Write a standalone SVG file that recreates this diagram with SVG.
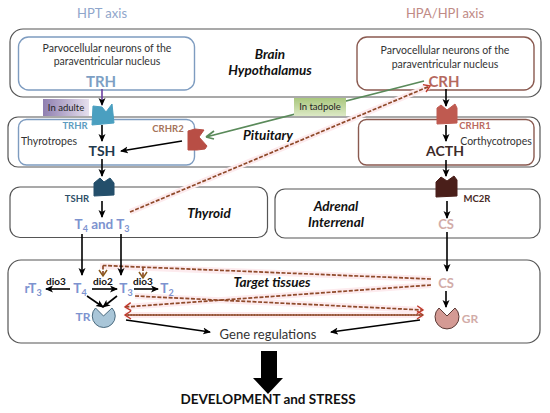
<svg xmlns="http://www.w3.org/2000/svg" width="550" height="413" viewBox="0 0 550 413">
<style>
text{font-family:Lato,"Liberation Sans",sans-serif;text-anchor:middle}
.box{fill:#fff;stroke:#555;stroke-width:1.2}
.bl{fill:#fff;stroke:#7e9cc0;stroke-width:1.4}
.br{fill:#fff;stroke:#8a5a50;stroke-width:1.4}
.t{font-size:10.5px;fill:#333}
.lab{font-size:13.5px;font-weight:bold;font-style:italic;fill:#111}
.blue{fill:#7d93cf}
.a{stroke:#000;stroke-width:1.6;fill:none;marker-end:url(#ar)}
.halo{stroke:#fdebee;stroke-width:6;fill:none}
.d{stroke:#8f4a2a;stroke-width:1.7;stroke-dasharray:4 1.6;fill:none}
.dr{marker-end:url(#ad)}
.dg{marker-end:url(#ag)}
.rl{font-size:9.500px;font-weight:bold}
.sym{font-size:13.500px;font-weight:bold}
.dio{font-size:10px;font-weight:bold;fill:#111}
</style>
<defs>
<marker id="ar" markerUnits="userSpaceOnUse" markerWidth="9" markerHeight="8" refX="7" refY="4" orient="auto"><path d="M0 0.500L8 4L0 7.500L2 4Z" fill="#000"/></marker>
<marker id="ad" markerUnits="userSpaceOnUse" markerWidth="9" markerHeight="10" refX="7" refY="4.500" orient="auto"><path d="M1 0.500L7 4.500L1 8.500" fill="none" stroke="#c0392b" stroke-width="1.400"/></marker>
<marker id="ag" markerUnits="userSpaceOnUse" markerWidth="9" markerHeight="10" refX="7" refY="4.500" orient="auto"><path d="M1 0.500L7 4.500L1 8.500" fill="none" stroke="#8a5a1c" stroke-width="1.500"/></marker>
<linearGradient id="gp"><stop offset="0" stop-color="#8f7fb0"/><stop offset="1" stop-color="#e6e0ee"/></linearGradient>
<linearGradient id="gg" x1="0" x2="0" y1="0" y2="1"><stop offset="0" stop-color="#a9c77d"/><stop offset="1" stop-color="#dce9c5"/></linearGradient>
</defs>
<g id="titles">
<text x="102" y="18" font-size="13" fill="#8fa6cb">HPT axis</text>
<text x="445" y="18" font-size="13" fill="#c08a85">HPA/HPI axis</text>
</g>
<g id="brain">
<rect class="box" x="10" y="29" width="531" height="68" rx="13"/>
<text class="lab" x="270" y="59">Brain</text>
<text class="lab" x="270" y="75">Hypothalamus</text>
</g>
<g id="pvn-left">
<rect class="bl" x="18.500" y="37" width="176" height="53" rx="10"/>
<text class="t" x="107" y="52">Parvocellular neurons of the</text>
<text class="t" x="107" y="65">paraventricular nucleus</text>
<text x="101" y="87" font-size="15" font-weight="bold" fill="#7d9fc4">TRH</text>
</g>
<g id="pvn-right">
<rect class="br" x="357" y="37" width="177" height="53" rx="10"/>
<text class="t" x="445" y="54">Parvocellular neurons of the</text>
<text class="t" x="445" y="68">paraventricular nucleus</text>
<text x="444" y="87" font-size="15" font-weight="bold" fill="#b5695f">CRH</text>
</g>
<g id="pituitary">
<rect class="box" x="8" y="117" width="532" height="50" rx="10"/>
<text class="lab" x="268" y="140">Pituitary</text>
</g>
<g id="thyrotropes">
<rect class="bl" x="18.500" y="119.500" width="176" height="45.500" rx="8"/>
<text class="t" x="49" y="145">Thyrotropes</text>
<text x="102" y="156" font-size="14" font-weight="bold" fill="#1f3a4d">TSH</text>
</g>
<g id="corticotropes">
<rect class="br" x="358.500" y="119.500" width="175.500" height="45.500" rx="8"/>
<text class="t" x="496" y="145">Corthycotropes</text>
<text x="445" y="156" font-size="14" font-weight="bold" fill="#3d2a28">ACTH</text>
</g>
<g id="thyroid">
<rect class="box" x="10" y="187" width="257.500" height="50.500" rx="10"/>
<text class="lab" x="209" y="218">Thyroid</text>
<text x="102" y="229" class="sym blue">T<tspan font-size="9" dy="3">4</tspan><tspan dy="-3"> and T</tspan><tspan font-size="9" dy="3">3</tspan></text>
</g>
<g id="adrenal">
<rect class="box" x="275" y="189" width="265" height="49" rx="10"/>
<text class="lab" x="336" y="211">Adrenal</text>
<text class="lab" x="336" y="227">Interrenal</text>
<text x="446" y="229" font-size="13" font-weight="bold" fill="#d2aca8">CS</text>
</g>
<g id="target">
<rect class="box" x="8" y="260" width="532" height="83" rx="13"/>
</g>
<g id="connectors">
<path class="halo" d="M130 212L430 86"/>
<path class="halo" d="M100 266L431 279M135 296L423 310M431 285L125 307M125 315L423 315"/>
<path class="d dr" d="M130 212L430 86"/>
<path class="d" d="M431 279L103 265.500"/>
<path class="d dg" d="M103 265.500L103 276"/>
<path class="d dg" d="M143 267L143 278"/>
<path class="d dr" d="M135 296L423 310"/>
<path class="d dr" d="M431 285L125 307"/>
<path class="d dr" d="M125 315L423 315"/>
<path class="d dr" d="M423 315L125 315"/>
<path d="M424 81L206 137M206 137L214 131M206 137L214 139" stroke="#5a8a5a" stroke-width="1.700" fill="none"/>
<path d="M102 89L102 105" stroke="#6a3fa0" stroke-width="1.600" marker-end="url(#ar)" fill="none"/>
<path class="a" d="M102 125L102 141"/>
<path class="a" d="M102 159L102 176"/>
<path class="a" d="M182 141L121 151"/>
<path class="a" d="M102 201L102 217"/>
<path class="a" d="M82 234L82 275"/>
<path class="a" d="M121 234L121 275"/>
<path class="a" d="M446 89L446 106"/>
<path class="a" d="M446 125L446 141"/>
<path class="a" d="M446 160L446 176"/>
<path class="a" d="M447 201L447 218"/>
<path class="a" d="M447 232L447 271"/>
<path class="a" d="M446 291L446 307"/>
<path class="a" d="M70 289L46 289"/>
<path class="a" d="M92 289L117 289"/>
<path class="a" d="M134 289L158 289" stroke-width="2"/>
<path class="a" d="M87 296L103 307"/>
<path class="a" d="M117 296L103 307"/>
<path class="a" d="M126 320L210 332"/>
<path class="a" d="M420 320L331 332"/>
</g>
<g id="labels">
<text class="lab" x="272" y="287">Target tissues</text>
<text x="33" y="293" class="sym blue">rT<tspan font-size="9" dy="3">3</tspan></text>
<text x="80" y="293" class="sym blue">T<tspan font-size="9" dy="3">4</tspan></text>
<text x="126" y="293" class="sym blue">T<tspan font-size="9" dy="3">3</tspan></text>
<text x="167" y="293" class="sym blue">T<tspan font-size="9" dy="3">2</tspan></text>
<text x="56" y="285" class="dio">dio3</text>
<text x="103" y="285" class="dio">dio2</text>
<text x="143" y="285" class="dio">dio3</text>
<text x="83" y="321" font-size="12" font-weight="bold" class="blue">TR</text>
<text x="446" y="288" font-size="13" font-weight="bold" fill="#d2aca8">CS</text>
<text x="470" y="323" font-size="12" font-weight="bold" fill="#d2aca8">GR</text>
<text x="268" y="339" font-size="13" fill="#333">Gene regulations</text>
<text x="75" y="129" class="rl" fill="#5d9cc0">TRHR</text>
<text x="168" y="132" class="rl" fill="#a5735a">CRHR2</text>
<text x="475" y="129" class="rl" fill="#bb6a60">CRHR1</text>
<text x="77" y="202" class="rl" fill="#2f5068">TSHR</text>
<text x="477" y="202" class="rl" fill="#4a2a26">MC2R</text>
<text x="268" y="404" font-size="13.500" font-weight="bold" fill="#111">DEVELOPMENT and STRESS</text>
</g>
<g id="in-adulte">
<rect x="43" y="99" width="46" height="17" fill="url(#gp)"/>
<text x="66" y="111" font-size="9.500" fill="#222">In adulte</text>
</g>
<g id="in-tadpole">
<rect x="294" y="98" width="52" height="18" fill="url(#gg)"/>
<text x="320" y="110" font-size="9.500" fill="#222">In tadpole</text>
</g>
<g id="TRHR"><path d="M93 106L102 107L106 112L112 104L114 123L92 125Z" fill="#4a9fc0" stroke="#4a9fc0" stroke-linejoin="round"/></g>
<g id="TSHR"><path d="M94 183L100 178L104 182L110 178L114 183L114 195L94 196Z" fill="#244f6b" stroke="#244f6b" stroke-linejoin="round"/></g>
<g id="CRHR2"><path d="M188 131L195 129L204 130L199 137L207 146L205 149L197 150L188 150Z" fill="#b84e45" stroke="#b84e45" stroke-linejoin="round"/></g>
<g id="CRHR1"><path d="M437 108L441 105L447 110L455 104L457 108L457 123L437 124Z" fill="#bf5a50" stroke="#bf5a50" stroke-linejoin="round"/></g>
<g id="MC2R"><path d="M436 182L441 177L447 181L454 176L457 180L457 196L436 197Z" fill="#4a1f1a" stroke="#4a1f1a" stroke-linejoin="round"/></g>
<g id="TR"><path d="M95.500 308L103.500 316L112 308A11.500 11.500 0 1 1 95.500 308Z" fill="#a9c6d8" stroke="#4a6a7e" stroke-width="1"/></g>
<g id="GR"><path d="M439 308L447 316L455 308A12 12 0 1 1 439 308Z" fill="#d49a94" stroke="#5a3a36" stroke-width="1"/></g>
<g id="big-arrow"><path d="M261 351H277V378H283L268 394L253 378H261Z" fill="#000"/></g>
</svg>
